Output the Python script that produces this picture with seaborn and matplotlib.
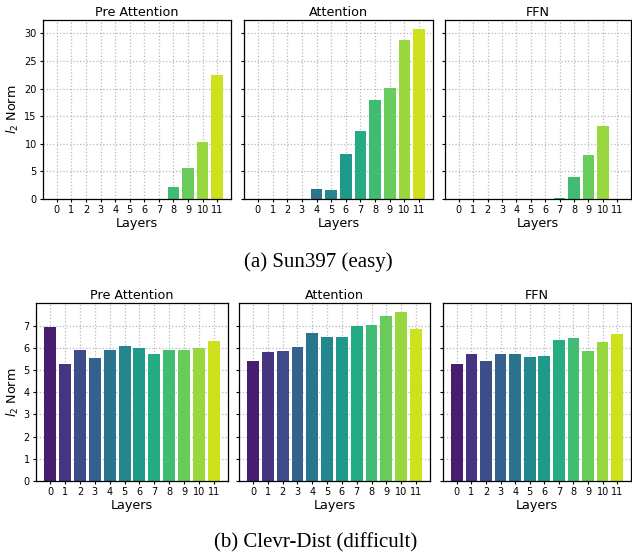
import matplotlib
matplotlib.use("Agg")
import matplotlib.pyplot as plt
import seaborn as sns
import numpy as np

layers = list(range(12))
layer_labels = [str(i) for i in layers]
panel_titles = ["Pre Attention", "Attention", "FFN"]

# (a) Sun397 (easy)
sun_pre = [0, 0, 0, 0, 0, 0, 0, 0, 2.2, 5.65, 10.35, 22.4]
sun_attn = [0, 0, 0, 0, 1.87, 1.69, 8.2, 12.35, 17.95, 20.1, 28.8, 30.8]
sun_ffn = [0, 0, 0, 0, 0, 0, 0, 0.24, 4.04, 7.9, 13.25, 0]

# (b) Clevr-Dist (difficult)
clevr_pre = [6.95, 5.27, 5.93, 5.57, 5.93, 6.1, 5.98, 5.75, 5.93, 5.93, 6.02, 6.33]
clevr_attn = [5.42, 5.82, 5.86, 6.04, 6.67, 6.49, 6.49, 7.0, 7.04, 7.45, 7.62, 6.86]
clevr_ffn = [5.29, 5.73, 5.42, 5.73, 5.73, 5.6, 5.64, 6.35, 6.44, 5.86, 6.27, 6.62]

captions = ["(a) Sun397 (easy)", "(b) Clevr-Dist (difficult)"]

W, H = 632, 557
fig = plt.figure(figsize=(W / 100, H / 100), dpi=100)
palette = sns.color_palette("viridis", 12)


def px_axes(x0, x1, ytop, ybot):
    return fig.add_axes([x0 / W, 1 - ybot / H, (x1 - x0) / W, (ybot - ytop) / H])


rows = [
    dict(data=[sun_pre, sun_attn, sun_ffn], xs=[(43, 231), (244, 433), (445, 631)],
         y=(20, 199), ylim=32.4, yticks=[0, 5, 10, 15, 20, 25, 30]),
    dict(data=[clevr_pre, clevr_attn, clevr_ffn], xs=[(36, 228), (239, 430), (443, 631)],
         y=(303, 481), ylim=8.03, yticks=[0, 1, 2, 3, 4, 5, 6, 7]),
]

for row in rows:
    for j, (vals, (x0, x1)) in enumerate(zip(row["data"], row["xs"])):
        ax = px_axes(x0, x1, row["y"][0], row["y"][1])
        sns.barplot(x=layers, y=vals, hue=layers, palette=palette, legend=False,
                    saturation=1, width=0.8, ax=ax, order=layers)
        ax.set_xlim(-0.95, 11.95)
        ax.set_ylim(0, row["ylim"])
        ax.set_yticks(row["yticks"])
        ax.set_xticks(layers)
        ax.set_xticklabels(layer_labels)
        ax.set_axisbelow(True)
        ax.grid(True, linestyle=":", color="#b8b8b8", linewidth=0.9)
        ax.tick_params(axis="both", labelsize=7, length=2.5, width=0.8, pad=2)
        for s in ax.spines.values():
            s.set_color("black")
            s.set_linewidth(0.9)
        ax.set_title(panel_titles[j], fontsize=9.2, pad=3)
        ax.set_xlabel("Layers", fontsize=9.2, labelpad=1)
        if j == 0:
            ax.set_ylabel(r"$l_2$ Norm", fontsize=9.2, labelpad=2)
        else:
            ax.set_ylabel("")
            ax.set_yticklabels([])

fig.text(318 / W, 1 - 262 / H, captions[0], ha="center", va="center",
         fontsize=15, family="Liberation Serif")
fig.text(316 / W, 1 - 543 / H, captions[1], ha="center", va="center",
         fontsize=15, family="Liberation Serif")

fig.savefig("out.png", dpi=100)
